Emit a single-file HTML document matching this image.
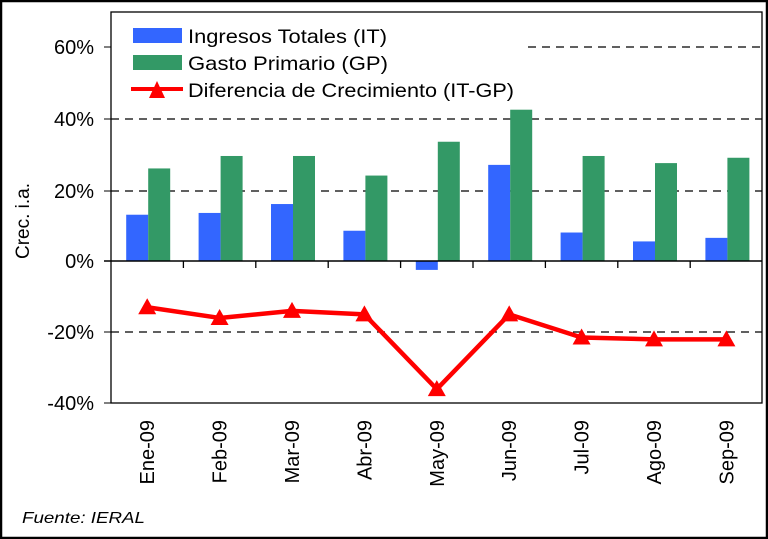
<!DOCTYPE html>
<html><head><meta charset="utf-8"><style>
html,body{margin:0;padding:0;background:#fff;}
svg{display:block;font-family:"Liberation Sans",Arial,sans-serif;}
</style></head><body>
<svg width="768" height="539" viewBox="0 0 768 539" xmlns="http://www.w3.org/2000/svg">
<rect x="1" y="1" width="766" height="537" fill="#fff" stroke="#000" stroke-width="2.5"/>
<g stroke="#000" stroke-width="1.3" stroke-dasharray="8,6">
<line x1="528" y1="47" x2="762" y2="47"/>
<line x1="111" y1="119" x2="762" y2="119"/>
<line x1="111" y1="191" x2="762" y2="191"/>
<line x1="111" y1="332" x2="762" y2="332"/>
</g>
<g id="bars"></g>
<rect x="111" y="12" width="651" height="391" fill="none" stroke="#000" stroke-width="1.3"/>
<line x1="104" y1="47" x2="111" y2="47" stroke="#000"/>
<line x1="104" y1="119" x2="111" y2="119" stroke="#000"/>
<line x1="104" y1="191" x2="111" y2="191" stroke="#000"/>
<line x1="104" y1="261" x2="762" y2="261" stroke="#000" stroke-width="1.5"/>
<line x1="104" y1="332" x2="111" y2="332" stroke="#000"/>
<line x1="104" y1="403" x2="111" y2="403" stroke="#000"/>
<g id="ticks" stroke="#000" stroke-width="1.3"></g>
<g font-size="20" fill="#000" text-anchor="end">
<text x="94" y="54">60%</text>
<text x="94" y="126">40%</text>
<text x="94" y="198">20%</text>
<text x="94" y="268">0%</text>
<text x="94" y="339">-20%</text>
<text x="94" y="410">-40%</text>
</g>
<text transform="translate(29,221) rotate(-90)" font-size="19" text-anchor="middle">Crec. i.a.</text>
<g id="cats" font-size="20" text-anchor="end"></g>
<polyline id="line" fill="none" stroke="#f00" stroke-width="4.5" stroke-linejoin="round"/>
<g id="tri" fill="#f00"></g>
<rect x="133" y="28" width="49" height="15" fill="#3366ff"/>
<rect x="133" y="55" width="49" height="15" fill="#339966"/>
<line x1="131" y1="89" x2="183" y2="89" stroke="#f00" stroke-width="4"/>
<polygon points="157,81 149,98 165,98" fill="#f00"/>
<g font-size="19.5">
<text x="188" y="43" textLength="199" lengthAdjust="spacingAndGlyphs">Ingresos Totales (IT)</text>
<text x="188" y="70" textLength="200" lengthAdjust="spacingAndGlyphs">Gasto Primario (GP)</text>
<text x="188" y="97" textLength="326" lengthAdjust="spacingAndGlyphs">Diferencia de Crecimiento (IT-GP)</text>
</g>
<text x="22" y="523" font-size="16" font-style="italic" textLength="123" lengthAdjust="spacingAndGlyphs">Fuente: IERAL</text>
<script>
var IT=[13,13.5,16,8.5,-2.5,27,8,5.5,6.5],GP=[26,29.5,29.5,24,33.5,42.5,29.5,27.5,29],D=[-13,-16,-14,-15,-36,-15,-21.5,-22,-22];
var cats=["Ene-09","Feb-09","Mar-09","Abr-09","May-09","Jun-09","Jul-09","Ago-09","Sep-09"];
var ns="http://www.w3.org/2000/svg",w=72.4,x0=111;
function y(v){return 261-v*3.56;}
function el(t,a,p,txt){var e=document.createElementNS(ns,t);for(var k in a)e.setAttribute(k,a[k]);if(txt)e.textContent=txt;document.getElementById(p).appendChild(e);return e;}
var pts=[];
for(var i=0;i<9;i++){var c=x0+w*i+w/2;
el("rect",{x:c-21,y:Math.min(y(IT[i]),261),width:22,height:Math.abs(y(IT[i])-261),fill:"#3366ff"},"bars");
el("rect",{x:c+1,y:y(GP[i]),width:22,height:261-y(GP[i]),fill:"#339966"},"bars");
if(i>0)el("line",{x1:x0+w*i,y1:261,x2:x0+w*i,y2:268},"ticks");
el("text",{transform:"translate("+(c+7)+",420) rotate(-90)"},"cats",cats[i]);
var yy=y(D[i]);pts.push(c+","+yy);
el("polygon",{points:c+","+(yy-9)+" "+(c-9)+","+(yy+7)+" "+(c+9)+","+(yy+7)},"tri");}
document.getElementById("line").setAttribute("points",pts.join(" "));
</script>
</svg>
</body></html>
